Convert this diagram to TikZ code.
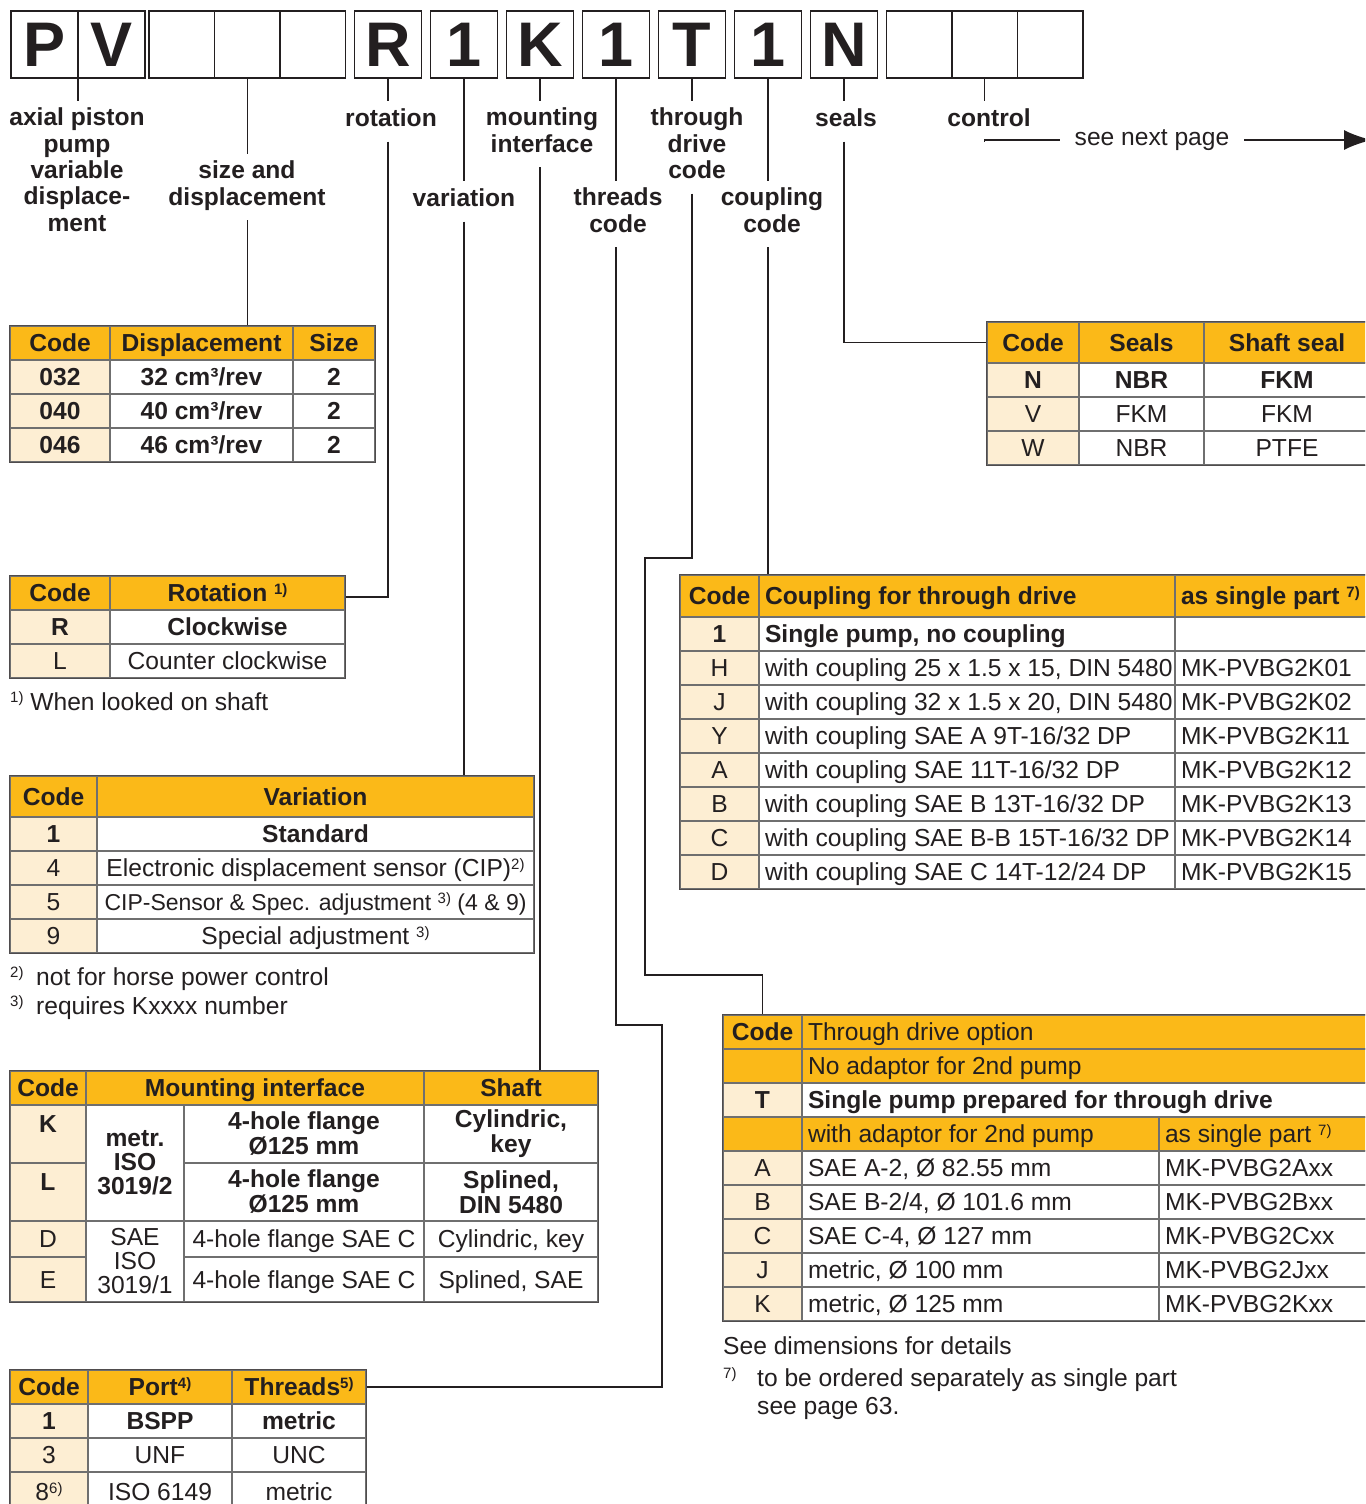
\documentclass[tikz,border=0pt]{standalone}
\usepackage{fontspec}
\setmainfont{Liberation Sans}
\usetikzlibrary{positioning,arrows.meta}

\definecolor{hdr}{HTML}{FBB918}
\definecolor{codebg}{HTML}{FDEED3}
\definecolor{rule}{HTML}{6F6F6F}
\definecolor{ink}{HTML}{231F20}

\newcommand\fnt{\fontsize{24.6}{27}\selectfont}
\newcommand\sups[1]{\raisebox{7.5pt}{\fontsize{15}{15}\selectfont #1}}
% table cell: name, x, y (top left), width, height, text
\newcommand\tcell[7][]{\node[cellbox,#1,minimum width=#5pt,minimum height=#6pt] (#2) at ({#3+#5/2},{#4+#6/2}) {#7};}
% same, text flush left
\newcommand\ltcell[7][]{\pgfmathsetmacro\cw{#5-12}\node[cellbox,#1,minimum width=#5pt,minimum height=#6pt] (#2) at ({#3+#5/2},{#4+#6/2}) {\makebox[\cw pt][l]{#7}};}

\tikzset{
  cellbox/.style={draw=rule, line width=1.2pt, fill=white, inner xsep=6pt, inner ysep=0pt, text height=18pt, text depth=1pt, font=\fnt, text=ink},
  hdrcell/.style={cellbox, fill=hdr, font=\bfseries\fnt},
  hdrplain/.style={cellbox, fill=hdr},
  codecell/.style={cellbox, fill=codebg},
  bf/.style={font=\bfseries\fnt},
  multi/.style={text height=, text depth=, align=center},
  tblframe/.style={draw=ink!80, line width=1.6pt},
  letterbox/.style={draw=ink, line width=1.3pt, minimum width=67pt, minimum height=67pt, inner sep=0pt, outer sep=0pt, font=\bfseries\fontsize{63}{63}\selectfont, text=ink},
  blankbox/.style={letterbox, minimum width=65.5pt},
  toplabel/.style={anchor=north, align=center, inner xsep=0pt, inner ysep=7pt, font=\bfseries\fontsize{24.6}{26.3}\selectfont, text=ink, execute at begin node=\strut, execute at end node=\strut},
  leader/.style={draw=ink, line width=1.3pt},
  note/.style={inner sep=0pt, anchor=base west, font=\fnt, text=ink},
}

\begin{document}
\begin{tikzpicture}[x=1pt, y=-1pt, node distance=9pt]
\useasboundingbox (0,0) rectangle (1365,1504);
\clip (0,0) rectangle (1365,1504);
\fill[white] (0,0) rectangle (1365,1504);

% type code
\node[letterbox, anchor=north west] (bP) at (11,11) {P};
\node[letterbox] (bV) [right=0pt of bP] {V};
\node[blankbox] (bS1) [right=4pt of bV] {};
\node[blankbox] (bS2) [right=0pt of bS1] {};
\node[blankbox] (bS3) [right=0pt of bS2] {};
\node[letterbox] (bR) [right=of bS3] {R};
\node[letterbox] (bVar) [right=of bR] {1};
\node[letterbox] (bK) [right=of bVar] {K};
\node[letterbox] (bTh) [right=of bK] {1};
\node[letterbox] (bT) [right=of bTh] {T};
\node[letterbox] (bC) [right=of bT] {1};
\node[letterbox] (bN) [right=of bC] {N};
\node[blankbox] (bX1) [right=of bN] {};
\node[blankbox] (bX2) [right=0pt of bX1] {};
\node[blankbox] (bX3) [right=0pt of bX2] {};

% labels under the code
\node[toplabel] (lPump) at (77,100.8) {axial piston\\pump\\variable\\displace-\\ment};
\node[toplabel] (lSize) at (247,153.8) {size and\\displacement};
\node[toplabel] (lRot) at (391,100.8) {rotation};
\node[toplabel] (lVar) at (464,180.8) {variation};
\node[toplabel] (lMount) at (542,100.8) {mounting\\interface};
\node[toplabel] (lThr) at (618,180.8) {threads\\code};
\node[toplabel] (lThru) at (697,100.8) {through\\drive\\code};
\node[toplabel] (lCpl) at (772,180.8) {coupling\\code};
\node[toplabel] (lSeal) at (846,100.8) {seals};
\node[toplabel] (lCtrl) at (989,100.8) {control};
\node[font=\fnt, text=ink, inner xsep=15pt] (lNext) at (1152,140) {see next page};

% size and displacement
\tcell[hdrcell]{dH1}{10}{326}{100}{34}{Code}
\tcell[hdrcell]{dH2}{110}{326}{183}{34}{Displacement}
\tcell[hdrcell]{dH3}{293}{326}{82}{34}{Size}
\tcell[codecell,bf]{d11}{10}{360}{100}{34}{032}
\tcell[bf]{d12}{110}{360}{183}{34}{32 cm³/rev}
\tcell[bf]{d13}{293}{360}{82}{34}{2}
\tcell[codecell,bf]{d21}{10}{394}{100}{34}{040}
\tcell[bf]{d22}{110}{394}{183}{34}{40 cm³/rev}
\tcell[bf]{d23}{293}{394}{82}{34}{2}
\tcell[codecell,bf]{d31}{10}{428}{100}{34}{046}
\tcell[bf]{d32}{110}{428}{183}{34}{46 cm³/rev}
\tcell[bf]{d33}{293}{428}{82}{34}{2}
\draw[tblframe] (dH1.north west) rectangle (d33.south east);

% rotation
\tcell[hdrcell]{rH1}{10}{576}{100}{34}{Code}
\tcell[hdrcell]{rH2}{110}{576}{235}{34}{Rotation \sups{1)}}
\tcell[codecell,bf]{r11}{10}{610}{100}{34}{R}
\tcell[bf]{r12}{110}{610}{235}{34}{Clockwise}
\tcell[codecell]{r21}{10}{644}{100}{34}{L}
\tcell{r22}{110}{644}{235}{34}{Counter clockwise}
\draw[tblframe] (rH1.north west) rectangle (r22.south east);
\node[note] (fn1) at (10,710) {\sups{1)}~When looked on shaft};

% variation
\tcell[hdrcell]{vH1}{10}{776}{87}{41}{Code}
\tcell[hdrcell]{vH2}{97}{776}{437}{41}{Variation}
\tcell[codecell,bf]{v11}{10}{817}{87}{34}{1}
\tcell[bf]{v12}{97}{817}{437}{34}{Standard}
\tcell[codecell]{v21}{10}{851}{87}{34}{4}
\tcell{v22}{97}{851}{437}{34}{Electronic displacement sensor (CIP)\sups{2)}}
\tcell[codecell]{v31}{10}{885}{87}{34}{5}
\tcell[font=\fontsize{23}{26}\selectfont]{v32}{97}{885}{437}{34}{CIP-Sensor \& Spec. adjustment \sups{3)} (4 \& 9)}
\tcell[codecell]{v41}{10}{919}{87}{34}{9}
\tcell{v42}{97}{919}{437}{34}{Special adjustment \sups{3)}}
\draw[tblframe] (vH1.north west) rectangle (v42.south east);
\node[note] (fn2) at (10,985) {\makebox[26pt][l]{\sups{2)}}not for horse power control};
\node[note] (fn3) at (10,1014) {\makebox[26pt][l]{\sups{3)}}requires Kxxxx number};

% mounting interface
\tcell[hdrcell]{mH1}{10}{1071}{76}{34}{Code}
\tcell[hdrcell]{mH2}{86}{1071}{338}{34}{Mounting interface}
\tcell[hdrcell]{mH3}{424}{1071}{174}{34}{Shaft}
\tcell[codecell,bf,text depth=22pt]{mK1}{10}{1105}{76}{58}{K}
\tcell[codecell,bf,text depth=22pt]{mL1}{10}{1163}{76}{58}{L}
\tcell[codecell]{mD1}{10}{1221}{76}{36}{D}
\tcell[codecell]{mE1}{10}{1257}{76}{45}{E}
\tcell[multi,font=\bfseries\fontsize{24.6}{24}\selectfont]{mK2}{86}{1105}{98}{116}{metr.\\ISO\\3019/2}
\tcell[multi,font=\fontsize{24.6}{24}\selectfont]{mD2}{86}{1221}{98}{81}{SAE\\ISO\\3019/1}
\tcell[multi,font=\bfseries\fontsize{24.6}{25}\selectfont]{mK3}{184}{1105}{240}{58}{4-hole flange\\Ø125 mm}
\tcell[multi,font=\bfseries\fontsize{24.6}{25}\selectfont]{mL3}{184}{1163}{240}{58}{4-hole flange\\Ø125 mm}
\tcell{mD3}{184}{1221}{240}{36}{4-hole flange SAE C}
\tcell{mE3}{184}{1257}{240}{45}{4-hole flange SAE C}
\tcell[multi,font=\bfseries\fontsize{24.6}{25}\selectfont]{mK4}{424}{1105}{174}{58}{Cylindric,\\key}
\tcell[multi,font=\bfseries\fontsize{24.6}{25}\selectfont]{mL4}{424}{1163}{174}{58}{Splined,\\DIN 5480}
\tcell{mD4}{424}{1221}{174}{36}{Cylindric, key}
\tcell{mE4}{424}{1257}{174}{45}{Splined, SAE}
\draw[tblframe] (mH1.north west) rectangle (mE4.south east);

% threads
\tcell[hdrcell]{tH1}{10}{1370}{78}{34}{Code}
\tcell[hdrcell]{tH2}{88}{1370}{144}{34}{Port\sups{4)}}
\tcell[hdrcell]{tH3}{232}{1370}{134}{34}{Threads\sups{5)}}
\tcell[codecell,bf]{t11}{10}{1404}{78}{34}{1}
\tcell[bf]{t12}{88}{1404}{144}{34}{BSPP}
\tcell[bf]{t13}{232}{1404}{134}{34}{metric}
\tcell[codecell]{t21}{10}{1438}{78}{34}{3}
\tcell{t22}{88}{1438}{144}{34}{UNF}
\tcell{t23}{232}{1438}{134}{34}{UNC}
\tcell[codecell]{t31}{10}{1472}{78}{40}{8\sups{6)}}
\tcell{t32}{88}{1472}{144}{40}{ISO 6149}
\tcell{t33}{232}{1472}{134}{40}{metric}
\draw[tblframe] (tH1.north west) rectangle (t33.south east);

% seals
\tcell[hdrcell]{sH1}{987}{322}{92}{41}{Code}
\tcell[hdrcell]{sH2}{1079}{322}{125}{41}{Seals}
\tcell[hdrcell]{sH3}{1204}{322}{166}{41}{Shaft seal}
\tcell[codecell,bf]{s11}{987}{363}{92}{34}{N}
\tcell[bf]{s12}{1079}{363}{125}{34}{NBR}
\tcell[bf]{s13}{1204}{363}{166}{34}{FKM}
\tcell[codecell]{s21}{987}{397}{92}{34}{V}
\tcell{s22}{1079}{397}{125}{34}{FKM}
\tcell{s23}{1204}{397}{166}{34}{FKM}
\tcell[codecell]{s31}{987}{431}{92}{34}{W}
\tcell{s32}{1079}{431}{125}{34}{NBR}
\tcell{s33}{1204}{431}{166}{34}{PTFE}
\draw[tblframe] (sH1.north west) rectangle (s33.south east);

% coupling
\tcell[hdrcell]{cH1}{680}{575}{79}{42}{Code}
\ltcell[hdrcell]{cH2}{759}{575}{416}{42}{Coupling for through drive}
\ltcell[hdrcell]{cH3}{1175}{575}{200}{42}{as single part \sups{7)}}
\tcell[codecell,bf]{c11}{680}{617}{79}{34}{1}
\ltcell[bf]{c12}{759}{617}{416}{34}{Single pump, no coupling}
\ltcell{c13}{1175}{617}{200}{34}{}
\tcell[codecell]{c21}{680}{651}{79}{34}{H}
\ltcell{c22}{759}{651}{416}{34}{with coupling 25 x 1.5 x 15, DIN 5480}
\ltcell{c23}{1175}{651}{200}{34}{MK-PVBG2K01}
\tcell[codecell]{c31}{680}{685}{79}{34}{J}
\ltcell{c32}{759}{685}{416}{34}{with coupling 32 x 1.5 x 20, DIN 5480}
\ltcell{c33}{1175}{685}{200}{34}{MK-PVBG2K02}
\tcell[codecell]{c41}{680}{719}{79}{34}{Y}
\ltcell{c42}{759}{719}{416}{34}{with coupling SAE A 9T-16/32 DP}
\ltcell{c43}{1175}{719}{200}{34}{MK-PVBG2K11}
\tcell[codecell]{c51}{680}{753}{79}{34}{A}
\ltcell{c52}{759}{753}{416}{34}{with coupling SAE 11T-16/32 DP}
\ltcell{c53}{1175}{753}{200}{34}{MK-PVBG2K12}
\tcell[codecell]{c61}{680}{787}{79}{34}{B}
\ltcell{c62}{759}{787}{416}{34}{with coupling SAE B 13T-16/32 DP}
\ltcell{c63}{1175}{787}{200}{34}{MK-PVBG2K13}
\tcell[codecell]{c71}{680}{821}{79}{34}{C}
\ltcell{c72}{759}{821}{416}{34}{with coupling SAE B-B 15T-16/32 DP}
\ltcell{c73}{1175}{821}{200}{34}{MK-PVBG2K14}
\tcell[codecell]{c81}{680}{855}{79}{34}{D}
\ltcell{c82}{759}{855}{416}{34}{with coupling SAE C 14T-12/24 DP}
\ltcell{c83}{1175}{855}{200}{34}{MK-PVBG2K15}
\draw[tblframe] (cH1.north west) rectangle (c83.south east);

% through drive option
\tcell[hdrcell]{oH1}{723}{1015}{79}{34}{Code}
\ltcell[hdrplain]{oH2}{802}{1015}{573}{34}{Through drive option}
\tcell[hdrplain]{oN1}{723}{1049}{79}{34}{}
\ltcell[hdrplain]{oN2}{802}{1049}{573}{34}{No adaptor for 2nd pump}
\tcell[codecell,bf]{oT1}{723}{1083}{79}{34}{T}
\ltcell[bf]{oT2}{802}{1083}{573}{34}{Single pump prepared for through drive}
\tcell[hdrplain]{oW1}{723}{1117}{79}{34}{}
\ltcell[hdrplain]{oW2}{802}{1117}{357}{34}{with adaptor for 2nd pump}
\ltcell[hdrplain]{oW3}{1159}{1117}{216}{34}{as single part \sups{7)}}
\tcell[codecell]{oA1}{723}{1151}{79}{34}{A}
\ltcell{oA2}{802}{1151}{357}{34}{SAE A-2, Ø 82.55 mm}
\ltcell{oA3}{1159}{1151}{216}{34}{MK-PVBG2Axx}
\tcell[codecell]{oB1}{723}{1185}{79}{34}{B}
\ltcell{oB2}{802}{1185}{357}{34}{SAE B-2/4, Ø 101.6 mm}
\ltcell{oB3}{1159}{1185}{216}{34}{MK-PVBG2Bxx}
\tcell[codecell]{oC1}{723}{1219}{79}{34}{C}
\ltcell{oC2}{802}{1219}{357}{34}{SAE C-4, Ø 127 mm}
\ltcell{oC3}{1159}{1219}{216}{34}{MK-PVBG2Cxx}
\tcell[codecell]{oJ1}{723}{1253}{79}{34}{J}
\ltcell{oJ2}{802}{1253}{357}{34}{metric, Ø 100 mm}
\ltcell{oJ3}{1159}{1253}{216}{34}{MK-PVBG2Jxx}
\tcell[codecell]{oK1}{723}{1287}{79}{34}{K}
\ltcell{oK2}{802}{1287}{357}{34}{metric, Ø 125 mm}
\ltcell{oK3}{1159}{1287}{216}{34}{MK-PVBG2Kxx}
\draw[tblframe] (oH1.north west) rectangle (oK3.south east);
\node[note] (oNote) at (723,1354) {See dimensions for details};
\node[note] (oFn) at (723,1386) {\makebox[34pt][l]{\sups{7)}}to be ordered separately as single part};
\node[note] (oPage) at (757,1414) {see page 63.};

% leader lines
\coordinate (thrBend) at (662,1025);
\coordinate (thruA) at (645,558);
\coordinate (thruB) at (762.5,975);
\coordinate (nextEnd) at (1372,140);
\draw[leader] (bP.south east) -- (bP.south east |- lPump.north);
\draw[leader] (bS2.south) -- (bS2.south |- lSize.north);
\draw[leader] (bS2.south |- lSize.south) -- (bS2.south |- dH2.north);
\draw[leader] (bR.south) -- (bR.south |- lRot.north);
\draw[leader] (bR.south |- lRot.south) |- ([yshift=-4pt]rH2.east);
\draw[leader] (bVar.south) -- (bVar.south |- lVar.north);
\draw[leader] (bVar.south |- lVar.south) -- (bVar.south |- vH2.north);
\draw[leader] (bK.south) -- (bK.south |- lMount.north);
\draw[leader] (bK.south |- lMount.south) -- (bK.south |- mH3.north);
\draw[leader] (bTh.south) -- (bTh.south |- lThr.north);
\draw[leader] (bTh.south |- lThr.south) |- (thrBend) |- (tH3.east);
\draw[leader] (bT.south) -- (bT.south |- lThru.north);
\draw[leader] (bT.south |- lThru.south) |- (thruA) |- (thruB) -- (thruB |- oH1.north);
\draw[leader] (bC.south) -- (bC.south |- lCpl.north);
\draw[leader] (bC.south |- lCpl.south) -- (bC.south |- cH2.north);
\draw[leader] (bN.south) -- (bN.south |- lSeal.north);
\draw[leader] (bN.south |- lSeal.south) |- (sH1.west);
\draw[leader] (bX2.south) -- (bX2.south |- lCtrl.north);
\draw[leader] (bX2.south |- lCtrl.south) |- (lNext.west);
\draw[ink, line width=2.4pt, -{Latex[length=28pt,width=20pt]}] (lNext.east) -- (lNext.east -| nextEnd);
\end{tikzpicture}
\end{document}
